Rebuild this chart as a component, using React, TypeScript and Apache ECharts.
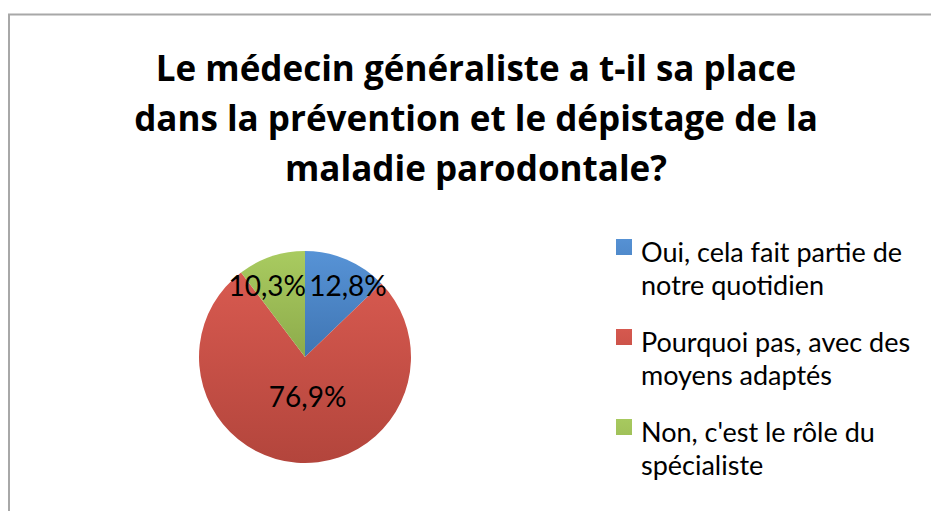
import React, { useEffect, useRef } from "react";
import * as echarts from "echarts";

const titleText =
  "Le médecin généraliste a t-il sa place\ndans la prévention et le dépistage de la\nmaladie parodontale?";
const legendLines = [
  ["Oui, cela fait partie de", "notre quotidien"],
  ["Pourquoi pas, avec des", "moyens adaptés"],
  ["Non, c'est le rôle du", "spécialiste"],
];
const categories = legendLines.map((l) => l.join(" "));
const percentValues = [12.8, 76.9, 10.3];

const sliceColors = [
  ["#5793d6", "#3f75b3"],
  ["#d85a50", "#b3453c"],
  ["#a9cb60", "#8dab4b"],
];
const labelOffsets = [
  [21, -20],
  [7, -17],
  [-20, -19],
];

export default function App() {
  const ref = useRef<HTMLDivElement>(null);
  useEffect(() => {
    if (!ref.current) return;
    const chart = echarts.init(ref.current, undefined, { renderer: "svg" });
    const LH = 33;
    const wrapped: Record<string, string> = {};
    categories.forEach((c, i) => (wrapped[c] = legendLines[i].join("\n")));
    // square marker placed at the top of a tall legend item box
    const legendIcon = "path://M0,4h16v16h-16z M0,0h0.01 M0,66h0.01";
    chart.setOption({
      animation: false,
      backgroundColor: "#ffffff",
      title: {
        text: titleText,
        left: 476,
        top: 42,
        padding: 0,
        textAlign: "center",
        textStyle: {
          fontFamily: "Open Sans",
          fontWeight: "bold",
          fontSize: 35,
          lineHeight: 50,
          color: "#000",
        },
      },
      legend: {
        orient: "vertical",
        left: 616,
        top: 235,
        padding: 0,
        itemWidth: 16,
        itemHeight: 66,
        itemGap: 24,
        selectedMode: false,
        icon: legendIcon,
        formatter: (n: string) => wrapped[n] || n,
        textStyle: {
          fontFamily: "Lato",
          fontSize: 27,
          lineHeight: LH,
          color: "#000",
          padding: [0, 0, 0, 4],
        },
        data: categories,
      },
      graphic: [
        {
          type: "polyline",
          shape: {
            points: [
              [9, 511],
              [9, 14.5],
              [931, 14.5],
            ],
          },
          style: { stroke: "#a8a8a8", lineWidth: 2, fill: "none" },
          silent: true,
        },
      ],
      series: [
        {
          type: "pie",
          center: [305, 357],
          radius: 106,
          startAngle: 90,
          clockwise: true,
          label: {
            show: true,
            position: "inside",
            fontFamily: "Lato",
            fontSize: 28,
            color: "#000",
            formatter: (p: any) => p.value.toFixed(1).replace(".", ",") + "%",
          },
          labelLine: { show: false },
          emphasis: { disabled: true },
          data: percentValues.map((v, i) => ({
            value: v,
            name: categories[i],
            itemStyle: {
              color: new echarts.graphic.LinearGradient(0, 0, 0, 1, [
                { offset: 0, color: sliceColors[i][0] },
                { offset: 1, color: sliceColors[i][1] },
              ]),
            },
            label: { offset: labelOffsets[i] },
          })),
        },
      ],
    });
    return () => chart.dispose();
  }, []);
  return (
    <div
      ref={ref}
      style={{ position: "fixed", left: 0, top: 0, width: 931, height: 511 }}
    />
  );
}
